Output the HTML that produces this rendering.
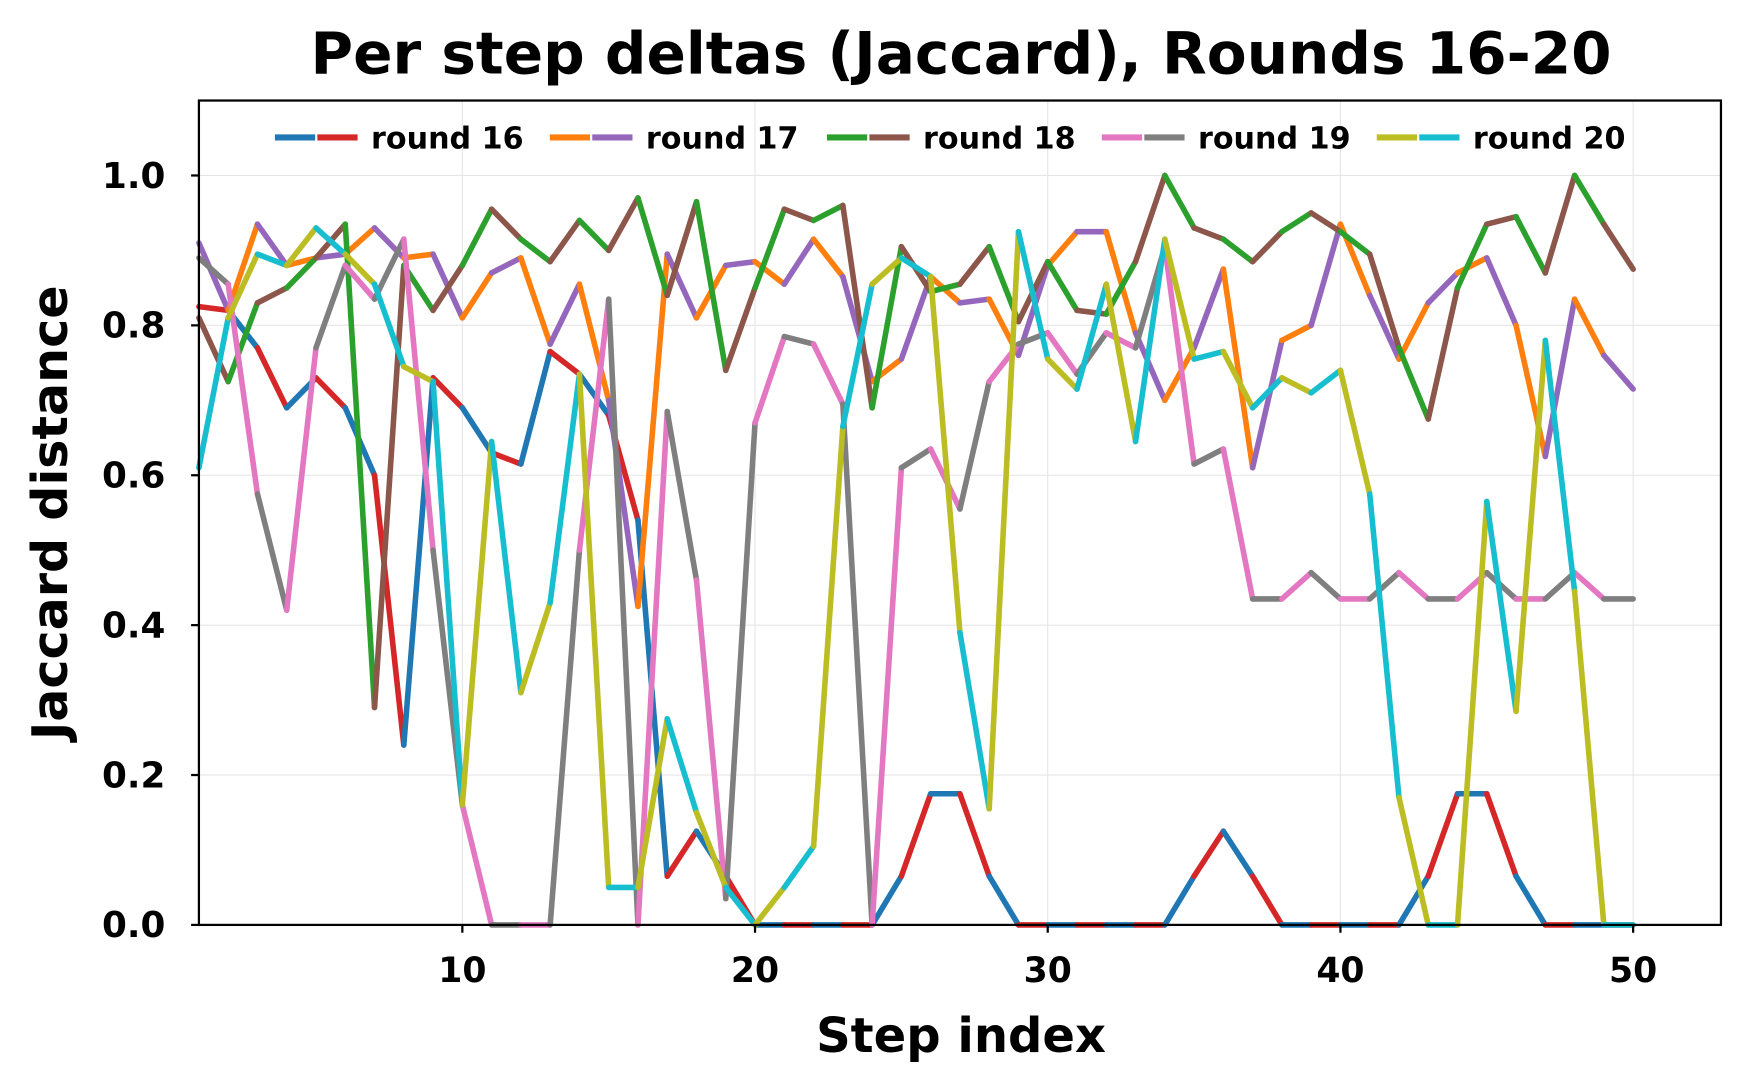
<!DOCTYPE html>
<html><head><meta charset="utf-8"><style>
body{margin:0;background:#fff;}
svg{display:block;}
svg text{font-family:"DejaVu Sans","Liberation Sans",sans-serif;font-weight:bold;}
</style></head><body>
<svg id="chart" width="1750" height="1088" viewBox="0 0 1566 974" preserveAspectRatio="none" xmlns="http://www.w3.org/2000/svg">
<rect width="1566" height="974" fill="#fff"/>
<text x="860" y="66" font-size="52" text-anchor="middle">Per step deltas (Jaccard), Rounds 16-20</text>
<g id="grid"></g>
<g id="series"></g>
<rect x="178" y="90" width="1362" height="738" fill="none" stroke="#000" stroke-width="2"/>
<g id="axes"></g>
<text x="860" y="942" font-size="43" text-anchor="middle">Step index</text>
<text transform="translate(60,459) rotate(-90)" font-size="44" text-anchor="middle">Jaccard distance</text>
<g id="legend"></g>
</svg>
<script>
const steps = Array.from({length:50},(_,i)=>i+1);
const seriesNames = ["round 16","round 17","round 18","round 19","round 20"];
const r16 = [0.825,0.82,0.77,0.69,0.73,0.69,0.60,0.24,0.73,0.69,0.63,0.615,0.765,0.735,0.68,0.54,0.065,0.125,0.065,0,0,0,0,0,0.065,0.175,0.175,0.065,0,0,0,0,0,0,0.065,0.125,0.065,0,0,0,0,0,0.065,0.175,0.175,0.065,0,0,0,0];
const r17 = [0.91,0.82,0.935,0.88,0.89,0.895,0.93,0.89,0.895,0.81,0.87,0.89,0.775,0.855,0.70,0.425,0.895,0.81,0.88,0.885,0.855,0.915,0.865,0.725,0.755,0.865,0.83,0.835,0.76,0.88,0.925,0.925,0.79,0.70,0.77,0.875,0.61,0.78,0.80,0.935,0.84,0.755,0.83,0.87,0.89,0.80,0.625,0.835,0.76,0.715];
const r18 = [0.81,0.725,0.83,0.85,0.89,0.935,0.29,0.88,0.82,0.88,0.955,0.915,0.885,0.94,0.90,0.97,0.84,0.965,0.74,0.85,0.955,0.94,0.96,0.69,0.905,0.845,0.855,0.905,0.805,0.885,0.82,0.815,0.885,1.0,0.93,0.915,0.885,0.925,0.95,0.925,0.895,0.77,0.675,0.85,0.935,0.945,0.87,1.0,0.935,0.875];
const r19 = [0.89,0.855,0.575,0.42,0.77,0.88,0.835,0.915,0.50,0.16,0,0,0,0.50,0.835,0,0.685,0.46,0.035,0.67,0.785,0.775,0.695,0,0.61,0.635,0.555,0.725,0.775,0.79,0.735,0.79,0.77,0.905,0.615,0.635,0.435,0.435,0.47,0.435,0.435,0.47,0.435,0.435,0.47,0.435,0.435,0.47,0.435,0.435];
const r20 = [0.61,0.81,0.895,0.88,0.93,0.895,0.855,0.745,0.725,0.16,0.645,0.31,0.43,0.735,0.05,0.05,0.275,0.15,0.05,0,0.05,0.105,0.665,0.855,0.89,0.865,0.39,0.155,0.925,0.755,0.715,0.855,0.645,0.915,0.755,0.765,0.69,0.73,0.71,0.74,0.575,0.17,0,0,0.565,0.285,0.78,0.445,0,0];
const xTicks = [10,20,30,40,50];
const yTicks = [0,0.2,0.4,0.6,0.8,1.0];
const yTickLabels = ["0.0","0.2","0.4","0.6","0.8","1.0"];
const allSeries = [r16,r17,r18,r19,r20];
const colorPairs = [["#1f77b4","#d62728"],["#ff7f0e","#9467bd"],["#2ca02c","#8c564b"],["#e377c2","#7f7f7f"],["#bcbd22","#17becf"]];

const NS="http://www.w3.org/2000/svg";
const X0=178,X1=1540,Y0=828,Y1=90, xmin=1,xmax=53,ymin=0,ymax=1.1;
const xs=v=>X0+(v-xmin)/(xmax-xmin)*(X1-X0);
const ys=v=>Y0-(v-ymin)/(ymax-ymin)*(Y0-Y1);
function mk(tag,attrs,parent){const e=document.createElementNS(NS,tag);for(const k in attrs)e.setAttribute(k,attrs[k]);parent.appendChild(e);return e;}
const grid=document.getElementById('grid'),axes=document.getElementById('axes'),ser=document.getElementById('series'),leg=document.getElementById('legend');
xTicks.forEach(t=>{
  const g=mk('line',{x1:xs(t),x2:xs(t),y1:Y1,y2:Y0,stroke:'#e6e6e6','stroke-width':1},grid);
  
  
  const tk=mk('line',{x1:xs(t),x2:xs(t),y1:Y0,y2:Y0+7,stroke:'#000','stroke-width':2},axes);
  
  
  const tx=mk('text',{x:xs(t),y:Y0+51,'font-size':31,'text-anchor':'middle'},axes);
  
  
  tx.textContent=t;
});
yTicks.forEach((t,i)=>{
  const g=mk('line',{x1:X0,x2:X1,y1:ys(t),y2:ys(t),stroke:'#e6e6e6','stroke-width':1},grid);
  
  
  const tk=mk('line',{x1:X0-7,x2:X0,y1:ys(t),y2:ys(t),stroke:'#000','stroke-width':2},axes);
  
  
  const tx=mk('text',{x:X0-30,y:ys(t)+11,'font-size':32,'text-anchor':'end'},axes);
  
  
  tx.textContent=yTickLabels[i];
});
allSeries.forEach((vals,si)=>{
  const g=mk('g',{},ser);
  
  
  for(let i=0;i<vals.length-1;i++){
    const c=colorPairs[si][i%2===0?1:0];
    const l=mk('line',{x1:xs(steps[i]),y1:ys(vals[i]),x2:xs(steps[i+1]),y2:ys(vals[i+1]),stroke:c,'stroke-width':5,'stroke-linecap':'round'},g);
    
    
  }
});
const legX=[246,492,740,986,1232];
seriesNames.forEach((n,i)=>{
  const g=mk('g',{},leg);
  
  
  mk('line',{x1:legX[i],x2:legX[i]+36,y1:123,y2:123,stroke:colorPairs[i][0],'stroke-width':5.5},g);
  mk('line',{x1:legX[i]+38,x2:legX[i]+74,y1:123,y2:123,stroke:colorPairs[i][1],'stroke-width':5.5},g);
  const t=mk('text',{x:legX[i]+86,y:133,'font-size':27},g);
  t.textContent=n;
});
</script>
</body></html>
